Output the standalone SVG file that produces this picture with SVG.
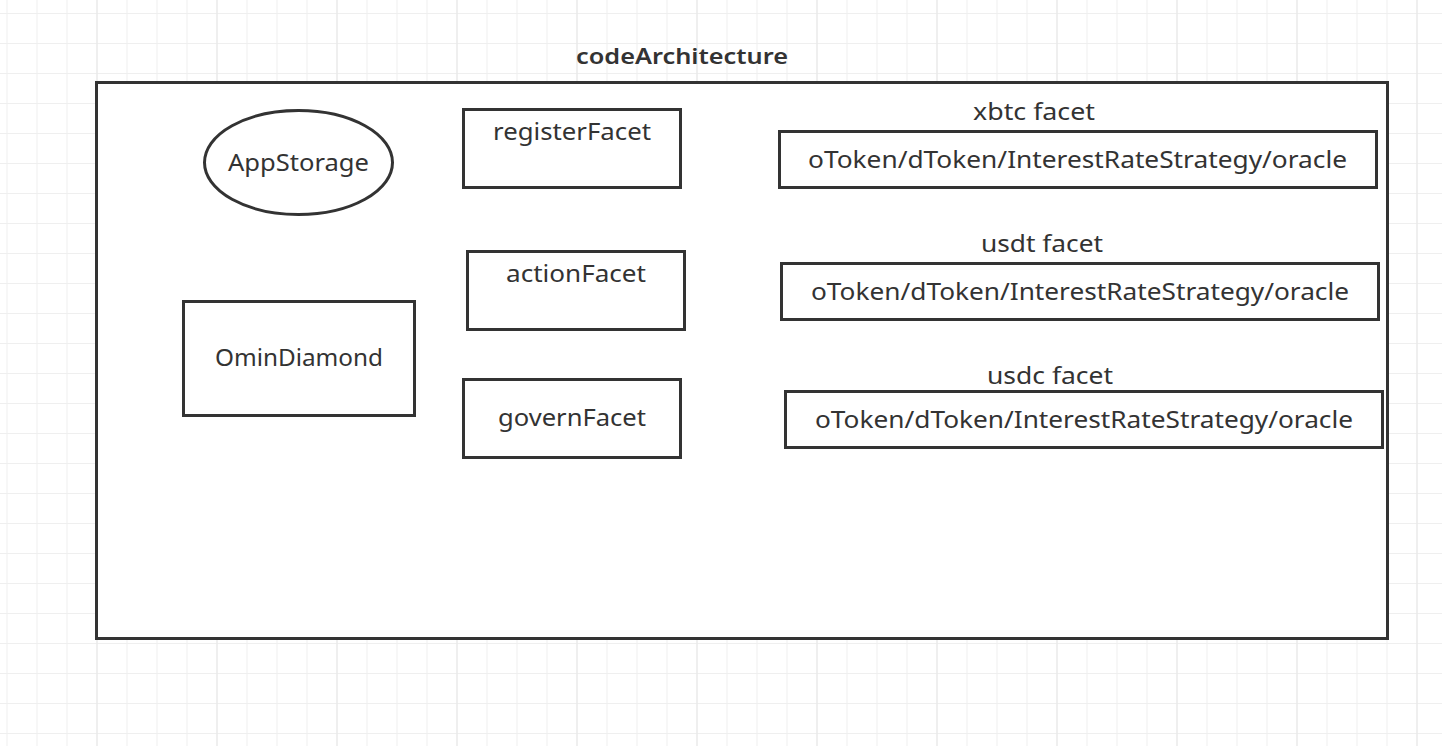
<svg xmlns="http://www.w3.org/2000/svg" width="1442" height="746" viewBox="0 0 1442 746">
<defs>
<pattern id="minor" x="6.5" y="13" width="30" height="30" patternUnits="userSpaceOnUse">
<path d="M0 0 H30 M0 0 V30" fill="none" stroke="#efefef" stroke-width="2"/>
</pattern>
<pattern id="major" x="96.5" y="13" width="120" height="120" patternUnits="userSpaceOnUse">
<path d="M0 0 V120" fill="none" stroke="#e6e6e6" stroke-width="2"/>
</pattern>
</defs>
<style>
.box{fill:#fff;stroke:#333;stroke-width:3}
.t{font-family:"Noto Sans","Liberation Sans",Arial,sans-serif;font-size:23px;fill:#333;text-anchor:middle}
.title{font-weight:600;font-size:22px}
</style>
<rect width="1442" height="746" fill="#fff"/>
<rect width="1442" height="746" fill="url(#minor)"/>
<rect width="1442" height="746" fill="url(#major)"/>
<text class="t title" x="682" y="64" textLength="212" lengthAdjust="spacingAndGlyphs">codeArchitecture</text>
<g id="container">
<rect class="box" x="96.5" y="82.5" width="1291" height="556"/>
</g>
<g id="appstorage">
<ellipse class="box" cx="298.5" cy="162.5" rx="94" ry="52"/>
<text class="t" x="298.5" y="171" textLength="141" lengthAdjust="spacingAndGlyphs">AppStorage</text>
</g>
<g id="registerFacet">
<rect class="box" x="463.5" y="109.5" width="217" height="78"/>
<text class="t" x="572" y="140" textLength="158" lengthAdjust="spacingAndGlyphs">registerFacet</text>
</g>
<g id="actionFacet">
<rect class="box" x="467.5" y="251.5" width="217" height="78"/>
<text class="t" x="576" y="282" textLength="140" lengthAdjust="spacingAndGlyphs">actionFacet</text>
</g>
<g id="governFacet">
<rect class="box" x="463.5" y="379.5" width="217" height="78"/>
<text class="t" x="572" y="426" textLength="148" lengthAdjust="spacingAndGlyphs">governFacet</text>
</g>
<g id="ominDiamond">
<rect class="box" x="183.5" y="301.5" width="231" height="114"/>
<text class="t" x="299" y="366" textLength="168" lengthAdjust="spacingAndGlyphs">OminDiamond</text>
</g>
<g id="xbtc">
<text class="t" x="1034" y="120" textLength="122" lengthAdjust="spacingAndGlyphs">xbtc facet</text>
<rect class="box" x="779.5" y="131.5" width="597" height="56"/>
<text class="t" x="1077.5" y="168" textLength="539" lengthAdjust="spacingAndGlyphs">oToken/dToken/InterestRateStrategy/oracle</text>
</g>
<g id="usdt">
<text class="t" x="1042" y="252" textLength="122" lengthAdjust="spacingAndGlyphs">usdt facet</text>
<rect class="box" x="781.5" y="263.5" width="597" height="56"/>
<text class="t" x="1080" y="300" textLength="538" lengthAdjust="spacingAndGlyphs">oToken/dToken/InterestRateStrategy/oracle</text>
</g>
<g id="usdc">
<text class="t" x="1050" y="384" textLength="126" lengthAdjust="spacingAndGlyphs">usdc facet</text>
<rect class="box" x="785.5" y="391.5" width="597" height="56"/>
<text class="t" x="1084" y="428" textLength="538" lengthAdjust="spacingAndGlyphs">oToken/dToken/InterestRateStrategy/oracle</text>
</g>
<g id="connectors"></g>
</svg>
